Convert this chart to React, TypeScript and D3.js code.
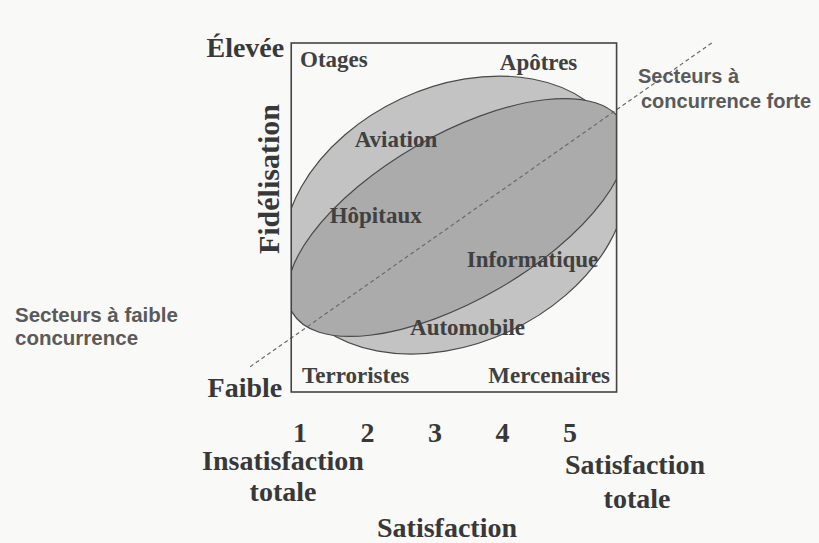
import React from "react";
import { scaleLinear } from "d3";

// satisfaction levels shown under the box
const satisfactionTicks = [1, 2, 3, 4, 5];

// customer groups: label, satisfaction, fidelity (fidelity on 0..10)
const groupLabels = ["Otages", "Apôtres", "Aviation", "Hôpitaux", "Informatique", "Automobile", "Terroristes", "Mercenaires"];
const groupSatisfaction = [1.0, 3.96, 1.81, 1.44, 3.47, 2.63, 1.03, 3.79];
const groupFidelity = [9.3, 9.22, 7.02, 4.84, 3.58, 1.63, 0.26, 0.26];

// the two sector clouds: centre (satisfaction, fidelity), half axes in satisfaction units, tilt
const cloudNames = ["large", "étroit"];
const cloudSatisfaction = [3.3, 3.33];
const cloudFidelity = [5.07, 5.0];
const cloudMajor = [2.67, 2.82];
const cloudMinor = [1.9, 1.22];
const cloudTilt = [-25, -30];
const cloudFill = ["#c3c3c3", "#ababab"];

// competition diagonal, from weak to strong
const diagonalSatisfaction = [0.26, 7.1];
const diagonalFidelity = [0.72, 10];

const W = 819;
const H = 543;

export default function App() {
  const x = scaleLinear().domain([1, 5]).range([300, 570]);
  const y = scaleLinear().domain([0, 10]).range([392, 43]);
  const unit = x(1) - x(0);

  const boxL = x(0.87);
  const boxR = x(5.69);
  const serif = "'Liberation Serif', 'Times New Roman', serif";
  const sans = "'Liberation Sans', Arial, sans-serif";
  const ink = "#383838";
  const note = "#5a5a5a";

  return (
    <svg width={W} height={H} style={{ position: "absolute", left: 0, top: 0, background: "#f9f9f8" }}>
      <defs>
        <clipPath id="box">
          <rect x={boxL} y={y(10)} width={boxR - boxL} height={y(0) - y(10)} />
        </clipPath>
      </defs>

      <g clipPath="url(#box)">
        {cloudNames.map((n, i) => {
          const cx = x(cloudSatisfaction[i]);
          const cy = y(cloudFidelity[i]);
          return (
            <ellipse
              key={n}
              cx={cx}
              cy={cy}
              rx={cloudMajor[i] * unit}
              ry={cloudMinor[i] * unit}
              transform={`rotate(${cloudTilt[i]} ${cx} ${cy})`}
              fill={cloudFill[i]}
              stroke="#4a4a4a"
              strokeWidth={1.2}
            />
          );
        })}
      </g>

      <line
        x1={x(diagonalSatisfaction[0])}
        y1={y(diagonalFidelity[0])}
        x2={x(diagonalSatisfaction[1])}
        y2={y(diagonalFidelity[1])}
        stroke="#6a6a6a"
        strokeWidth={1.2}
        strokeDasharray="4 3"
      />

      <rect x={boxL} y={y(10)} width={boxR - boxL} height={y(0) - y(10)} fill="none" stroke="#444" strokeWidth={1.6} />

      {groupLabels.map((g, i) => (
        <text key={g} x={x(groupSatisfaction[i])} y={y(groupFidelity[i])} fontFamily={serif} fontWeight="bold" fontSize={23} fill="#404040">
          {g}
        </text>
      ))}

      {/* y axis */}
      <text x={boxL - 7} y={y(10) + 14} textAnchor="end" fontFamily={serif} fontWeight="bold" fontSize={28} fill={ink}>Élevée</text>
      <text x={boxL - 9} y={y(0) + 5} textAnchor="end" fontFamily={serif} fontWeight="bold" fontSize={28} fill={ink}>Faible</text>
      <text transform={`translate(279, ${y(6.1)}) rotate(-90)`} textAnchor="middle" fontFamily={serif} fontWeight="bold" fontSize={30} fill={ink}>Fidélisation</text>

      {/* x axis */}
      {satisfactionTicks.map((t) => (
        <text key={t} x={x(t)} y={442} textAnchor="middle" fontFamily={serif} fontWeight="bold" fontSize={28} fill={ink}>{t}</text>
      ))}
      <text x={283} y={470} textAnchor="middle" fontFamily={serif} fontWeight="bold" fontSize={28} fill={ink}>Insatisfaction</text>
      <text x={283} y={501} textAnchor="middle" fontFamily={serif} fontWeight="bold" fontSize={28} fill={ink}>totale</text>
      <text x={635} y={474} textAnchor="middle" fontFamily={serif} fontWeight="bold" fontSize={28} fill={ink}>Satisfaction</text>
      <text x={637} y={508} textAnchor="middle" fontFamily={serif} fontWeight="bold" fontSize={28} fill={ink}>totale</text>
      <text x={447} y={537} textAnchor="middle" fontFamily={serif} fontWeight="bold" fontSize={28} fill={ink}>Satisfaction</text>

      {/* sector notes */}
      <text x={15} y={322} fontFamily={sans} fontWeight="bold" fontSize={20.5} fill={note}>Secteurs à faible</text>
      <text x={15} y={345} fontFamily={sans} fontWeight="bold" fontSize={20.5} fill={note}>concurrence</text>
      <text x={638} y={83} fontFamily={sans} fontWeight="bold" fontSize={20} fill={note}>Secteurs à</text>
      <text x={641} y={108} fontFamily={sans} fontWeight="bold" fontSize={20} fill={note}>concurrence forte</text>
    </svg>
  );
}
